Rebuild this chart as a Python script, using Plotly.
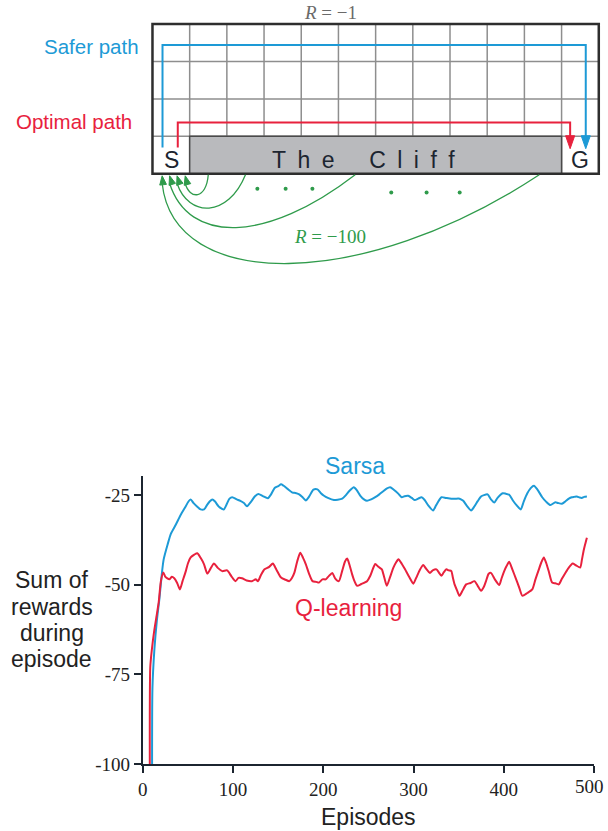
import math
import plotly.graph_objects as go

W, H = 608, 831          # reference picture size (all layout numbers below are in these pixels)
H_FIG = 841              # the viewer shows the page squeezed to 831 px tall, so draw 841 px

# ---------------- Data ----------------
sarsa_episodes = [10.4, 10.6, 12.8, 15.5, 18.3, 21, 23, 27.5, 31, 36.6, 42, 47.6, 50, 53, 56, 60, 64, 67.8, 71, 74,
                  77, 80, 84, 89.7, 93, 96, 99, 104, 108, 112, 115.4, 120, 124, 128, 133, 138.5, 142, 146, 150,
                  153.1, 156, 160, 165.9, 169, 173.2, 177, 180.5, 184, 189, 193.4, 197, 200.7, 205, 211.7, 216,
                  220.9, 225, 229, 233.7, 237, 241, 245, 248.4, 253, 257.5, 262, 266, 270, 274, 278, 283, 286.8,
                  290, 294, 298, 301.4, 305, 308.8, 312, 316, 321.6, 325, 330.8, 336, 341.8, 346, 351, 355, 359,
                  363.7, 367, 371, 374.7, 378, 382, 385.7, 389.4, 393, 398.6, 402, 405.9, 410, 414, 418.7, 422,
                  426, 430, 433.3, 437, 442.5, 447, 451.6, 457, 460, 464.3, 468, 472, 475.3, 478, 480.8, 484,
                  486.3, 489, 492]
sarsa_rewards = [-130, -79, -68, -60, -54, -47, -43, -38.7, -35.8, -33.2, -30.5, -28.1, -27, -26.2, -27.2, -28.2,
                 -29, -29, -27.8, -26.8, -26.2, -26.8, -28.2, -29, -27.5, -26, -25.6, -26.2, -26.6, -27.2, -28.1,
                 -26.8, -25.4, -24.7, -25.3, -25.9, -24.8, -23, -22.5, -22, -22.4, -23.2, -24.3, -24.4, -24.8,
                 -25.6, -26.5, -25.5, -23.5, -23.4, -24.4, -25.2, -25.8, -26.4, -26.3, -26.0, -25, -23.8, -22.8,
                 -23.6, -25.2, -26.2, -26.6, -26.2, -25.6, -24.8, -24, -23.2, -22.8, -23.5, -24.6, -25.6, -25.3,
                 -25.2, -25.8, -26.4, -26, -25.6, -26.3, -27.8, -29.3, -27.8, -25.6, -25.8, -26.0, -26, -26,
                 -26.6, -28, -29.3, -28.3, -26.7, -25.4, -25, -24.8, -26.2, -27.1, -25.8, -24.5, -24.6, -24.9,
                 -26.5, -27.8, -29, -26.8, -24.5, -23, -22.4, -23.4, -25.6, -26.9, -27.8, -27, -27.2, -27.4,
                 -26.8, -26, -25.6, -25.5, -25.4, -25.7, -25.8, -25.5, -25.4]

qlearning_episodes = [8.0, 8.2, 10, 12.5, 15, 17.5, 20, 22.7, 25, 29.3, 32, 34.8, 38, 41, 44, 47.6, 50, 53, 57,
                      60.4, 64, 67.8, 71.4, 75, 78.8, 83, 87.9, 93.4, 98, 102.6, 106, 109.9, 115, 120.9, 125,
                      127.5, 131, 134.8, 140, 144, 148, 153.1, 158, 162.3, 165, 167.8, 171, 174.4, 177.5, 180.6,
                      184, 188, 192, 195.2, 199, 202.6, 206, 209.9, 213, 217.2, 221, 224, 226.4, 229, 231.9,
                      234.5, 237.4, 242, 248.4, 252, 255, 257.5, 261, 264.8, 267.5, 270.3, 274, 277.6, 280.5,
                      283.2, 287, 290.5, 295, 299.7, 303, 307, 310.7, 314, 318, 321.6, 325.3, 328, 330.8, 333.5,
                      336.3, 339, 341.8, 343.5, 345.4, 348, 350.9, 354.5, 358.2, 363, 367.4, 371, 374.7, 378,
                      380.2, 383, 385.7, 390, 394.9, 397.5, 400.4, 403, 405.9, 409.5, 413.2, 417, 420.5, 426,
                      431.5, 435, 438.8, 441.5, 444.3, 447, 450, 453.5, 457, 460.8, 464, 468.1, 472, 476.2, 480,
                      484.6, 486.5, 488.3, 490, 492]
qlearning_rewards = [-130, -73, -68, -63, -59, -55, -49, -46.6, -47.8, -48.5, -47.8, -48.2, -49.5, -51.3, -49,
                     -46.2, -44, -42.4, -41.6, -41.2, -42.5, -44.3, -46.9, -45.5, -44.1, -45.3, -46.2, -46.0,
                     -47.6, -49.0, -48.1, -48.2, -48.8, -49.0, -48.5, -49.0, -47.2, -45.7, -45.0, -44.1, -45.8,
                     -48, -48.6, -49, -48.2, -46.7, -43.5, -41.1, -42.5, -44.3, -46.8, -49, -49.2, -49.4, -48.5,
                     -48.5, -47.6, -46.7, -48.2, -49, -46, -43.5, -42.7, -44.5, -47.1, -49, -50.3, -49.8, -49,
                     -47.5, -45.5, -44.2, -45, -45.7, -48, -50.3, -47.8, -45.2, -43.8, -42.9, -44.2, -45.7,
                     -47.8, -49.7, -48, -45.8, -44.5, -45.6, -46.7, -45.9, -45.7, -46.6, -47.5, -46.5, -45.7,
                     -46, -46.2, -48, -49.9, -51.5, -53.1, -51.5, -49.9, -49.5, -49, -50.3, -51.7, -50.5, -49.0,
                     -47, -46.7, -48.5, -50.1, -48.2, -46.2, -44.8, -43.6, -45.8, -48.2, -50.8, -53.1, -52.3,
                     -51.3, -48.5, -45.7, -43.8, -42.4, -44, -46.5, -49.4, -49.6, -49.9, -48.5, -46.7, -45.2,
                     -44.1, -44.6, -45.2, -43, -40.6, -38.8, -36.9]

x_tick_values = [0, 100, 200, 300, 400, 500]
y_tick_values = [-100, -75, -50, -25]
y_tick_labels = ["-100", "-75", "-50", "-25"]
y_title_lines = ["Sum of", "rewards", "during", "episode"]
x_title = "Episodes"
series_names = ["Sarsa", "Q-learning"]

# Gridworld diagram content
grid_cols = 12
grid_rows = 4
cliff_text = "T\u2002h\u2002e\u2003\u2002C\u2002l\u2002i\u2002f\u2002f"
step_reward_text = "<i>R</i> = \u22121"
cliff_reward_text = "<i>R</i> = \u2212100"
path_labels = ["Safer path", "Optimal path"]

# ---------------- Style ----------------
SANS = "Liberation Sans, Arial, Helvetica, sans-serif"
SERIF = "Liberation Serif, Times New Roman, serif"
BLUE = "#1d9ad6"
RED = "#e8213d"
GREEN = "#2f9b4b"
DARK = "#1c2530"
GRIDC = "#8e8e8e"
CLIFFC = "#b9babd"

PX0, PX1 = 139, 594
PY0, PY1 = 477, 765

fig = go.Figure()

fig.add_trace(go.Scatter(x=sarsa_episodes, y=sarsa_rewards, mode="lines",
                         line=dict(color=BLUE, width=2, shape="spline", smoothing=0.6), name=series_names[0],
                         xaxis="x", yaxis="y", hoverinfo="skip"))
fig.add_trace(go.Scatter(x=qlearning_episodes, y=qlearning_rewards, mode="lines",
                         line=dict(color=RED, width=2, shape="spline", smoothing=0.6), name=series_names[1],
                         xaxis="x", yaxis="y", hoverinfo="skip"))

# ---------------- Gridworld diagram (pixel overlay axes x2/y2) ----------------
GX0, GY0, CELL = 148.7, 24.0, 37.5


def gx(c):
    return GX0 + c * CELL


def gy(r):
    return GY0 + r * CELL


shapes = []
for r in range(1, grid_rows):
    shapes.append(dict(type="line", xref="x2", yref="y2", x0=gx(0), x1=gx(grid_cols), y0=gy(r), y1=gy(r),
                       line=dict(color=GRIDC, width=1.5), layer="above"))
for c in range(1, grid_cols):
    shapes.append(dict(type="line", xref="x2", yref="y2", x0=gx(c), x1=gx(c), y0=gy(0), y1=gy(grid_rows),
                       line=dict(color=GRIDC, width=1.5), layer="above"))
shapes.append(dict(type="rect", xref="x2", yref="y2", x0=gx(1), x1=gx(grid_cols - 1),
                   y0=gy(grid_rows - 1), y1=gy(grid_rows),
                   fillcolor=CLIFFC, line=dict(color="#4a4a4a", width=1.5), layer="above"))
shapes.append(dict(type="rect", xref="x2", yref="y2", x0=gx(0), x1=gx(grid_cols), y0=gy(0), y1=gy(grid_rows),
                   line=dict(color="#2e2e2e", width=2.5), fillcolor="rgba(0,0,0,0)", layer="above"))


def arrow_head(tx, ty, dx, dy, length, half, color):
    n = math.hypot(dx, dy)
    ux, uy = dx / n, dy / n
    bx, by = tx - ux * length, ty - uy * length
    px, py = -uy, ux
    path = (f"M {bx + px * half:.2f},{by + py * half:.2f} L {bx - px * half:.2f},{by - py * half:.2f} "
            f"L {tx:.2f},{ty:.2f} Z")
    return dict(type="path", xref="x2", yref="y2", path=path, fillcolor=color,
                line=dict(color=color, width=1), layer="above")


def route(x_start, y_top, x_end, color):
    y_bottom = gy(3.3)
    tip = gy(3.33)
    base = tip - 12.5
    path = f"M {x_start:.2f},{y_bottom:.2f} L {x_start:.2f},{y_top:.2f} L {x_end:.2f},{y_top:.2f} L {x_end:.2f},{base:.2f}"
    shapes.append(dict(type="path", xref="x2", yref="y2", path=path, line=dict(color=color, width=2), layer="above"))
    shapes.append(arrow_head(x_end, tip, 0, 1, 13, 4.6, color))


route(gx(0.27), gy(0.56), gx(11.65), BLUE)
route(gx(0.68), gy(2.63), gx(11.23), RED)

# falls off the cliff, back to S
fall_start_cols = [1.5, 2.5, 5.45, 10.4]
fall_end_cols = [0.88, 0.66, 0.46, 0.26]
fall_ctrl = [(203, 186, 200), (225, 185, 218), (263, 185, 244), (360, 170, 292)]
for sc, ec, (c1, c2, depth) in zip(fall_start_cols, fall_end_cols, fall_ctrl):
    x0, y0 = gx(sc), gy(grid_rows) + 1
    x3, y3 = gx(ec), gy(grid_rows) + 9.5
    path = f"M {x0:.2f},{y0:.2f} C {c1:.2f},{depth:.2f} {c2:.2f},{depth:.2f} {x3:.2f},{y3:.2f}"
    shapes.append(dict(type="path", xref="x2", yref="y2", path=path, line=dict(color=GREEN, width=1.3),
                       layer="above"))
    shapes.append(arrow_head(x3, gy(grid_rows) + 2, x3 - c2, y3 - depth, 9, 3.4, GREEN))

dot_cols = [2.82, 3.58, 4.3, 6.42, 7.37, 8.26]
dot_rows = [4.4, 4.4, 4.4, 4.5, 4.5, 4.5]
fig.add_trace(go.Scatter(x=[gx(c) for c in dot_cols], y=[gy(r) for r in dot_rows], mode="markers",
                         marker=dict(color=GREEN, size=4), xaxis="x2", yaxis="y2", hoverinfo="skip"))

annotations = []


def txt(x, y, text, size, color, family=SANS, xanchor="center"):
    annotations.append(dict(x=x, y=y, text=text, showarrow=False, xanchor=xanchor, yanchor="middle",
                            xref="x2", yref="y2", font=dict(size=size, color=color, family=family)))


txt(gx(0.52), gy(3.62), "S", 23, DARK)
txt(gx(11.5), gy(3.62), "G", 23, DARK)
txt(361, gy(3.62), cliff_text, 23, DARK)
txt(137, gy(0.6), path_labels[0], 20.5, BLUE, xanchor="right")
txt(130.5, gy(2.6), path_labels[1], 20.5, RED, xanchor="right")
txt(328, 13, step_reward_text, 19, "#6a6a6a", family=SERIF)
txt(328, 237, cliff_reward_text, 19, GREEN, family=SERIF)

txt(352.7, 466.7, series_names[0], 23, BLUE)
txt(346.7, 608.3, series_names[1], 23, RED)
txt(367, 818, x_title, 23, "#222222")
for i, line in enumerate(y_title_lines):
    txt(47, 581 + i * 26.3, line, 23, "#222222")
# last x tick label sits at the right edge (plotly hides it as overflowing); keep it inside the page
txt(606, 787, str(x_tick_values[-1]), 19, "#222222", family=SERIF, xanchor="right")

fig.update_layout(
    width=W, height=H_FIG, autosize=False,
    margin=dict(l=0, r=0, t=0, b=0, pad=0),
    paper_bgcolor="white", plot_bgcolor="rgba(0,0,0,0)",
    showlegend=False, hovermode=False,
    xaxis=dict(domain=[PX0 / W, PX1 / W], range=[0, 500], anchor="y",
               tickvals=x_tick_values, ticks="outside", ticklen=7, tickwidth=1.5, tickcolor=DARK,
               showline=True, linecolor=DARK, linewidth=2, showgrid=False, zeroline=False,
               tickfont=dict(family=SERIF, size=19, color="#222222"), fixedrange=True),
    yaxis=dict(domain=[1 - PY1 / H, 1 - PY0 / H], range=[-100, -19.8], anchor="x",
               tickvals=y_tick_values, ticktext=y_tick_labels, ticks="outside", ticklen=7, tickwidth=1.5,
               tickcolor=DARK, showline=True, linecolor=DARK, linewidth=2, showgrid=False, zeroline=False,
               tickfont=dict(family=SERIF, size=19, color="#222222"), fixedrange=True),
    xaxis2=dict(domain=[0, 1], range=[0, W], anchor="y2", visible=False, fixedrange=True),
    yaxis2=dict(domain=[0, 1], range=[H, 0], anchor="x2", visible=False, fixedrange=True),
    shapes=shapes,
    annotations=annotations,
)

fig.write_html("out.html", config={"displayModeBar": False},
               post_script="document.documentElement.style.margin='0';document.body.style.margin='0';")
